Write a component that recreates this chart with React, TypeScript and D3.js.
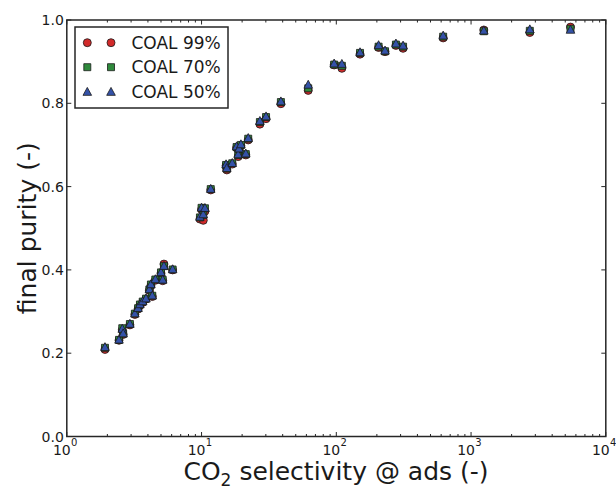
import React from "react";
import * as d3 from "d3";

const coal99X = [1.92, 2.44, 2.58, 2.62, 2.94, 3.2, 3.38, 3.49, 3.66, 3.87, 4.1, 4.21, 4.31, 4.54, 5.0, 5.15, 5.26, 6.1, 9.73, 10.0, 10.3, 10.6, 11.7, 15.2, 15.4, 16.9, 18.2, 18.7, 19.0, 19.6, 21.3, 22.2, 27.1, 30.1, 38.8, 61.9, 96.4, 110, 150, 206, 230, 277, 313, 621, 1244, 2730, 5470];
const coal99Y = [0.209, 0.231, 0.256, 0.245, 0.268, 0.293, 0.306, 0.315, 0.322, 0.330, 0.351, 0.362, 0.336, 0.375, 0.392, 0.374, 0.414, 0.400, 0.522, 0.545, 0.519, 0.541, 0.592, 0.650, 0.640, 0.654, 0.693, 0.672, 0.688, 0.698, 0.676, 0.712, 0.750, 0.763, 0.799, 0.831, 0.892, 0.884, 0.918, 0.934, 0.924, 0.939, 0.932, 0.957, 0.976, 0.970, 0.983];
const coal70X = [1.92, 2.44, 2.58, 2.62, 2.94, 3.2, 3.38, 3.49, 3.66, 3.87, 4.1, 4.21, 4.31, 4.54, 5.0, 5.15, 5.26, 6.1, 9.73, 10.0, 10.3, 10.6, 11.7, 15.2, 15.4, 16.9, 18.2, 18.7, 19.0, 19.6, 21.3, 22.2, 27.1, 30.1, 38.8, 61.9, 96.4, 110, 150, 206, 230, 277, 313, 621, 1244, 2730, 5470];
const coal70Y = [0.213, 0.232, 0.260, 0.247, 0.270, 0.295, 0.308, 0.317, 0.324, 0.331, 0.353, 0.365, 0.338, 0.377, 0.394, 0.376, 0.409, 0.401, 0.526, 0.549, 0.532, 0.548, 0.594, 0.652, 0.643, 0.656, 0.695, 0.676, 0.690, 0.700, 0.678, 0.715, 0.755, 0.767, 0.803, 0.836, 0.893, 0.890, 0.921, 0.936, 0.925, 0.941, 0.936, 0.960, 0.973, 0.974, 0.979];
const coal50X = [1.92, 2.44, 2.58, 2.62, 2.94, 3.2, 3.38, 3.49, 3.66, 3.87, 4.1, 4.21, 4.31, 4.54, 5.0, 5.15, 5.26, 6.1, 9.73, 10.0, 10.3, 10.6, 11.7, 15.2, 15.4, 16.9, 18.2, 18.7, 19.0, 19.6, 21.3, 22.2, 27.1, 30.1, 38.8, 61.9, 96.4, 110, 150, 206, 230, 277, 313, 621, 1244, 2730, 5470];
const coal50Y = [0.215, 0.233, 0.259, 0.248, 0.271, 0.296, 0.309, 0.318, 0.325, 0.332, 0.354, 0.366, 0.339, 0.378, 0.395, 0.377, 0.410, 0.402, 0.528, 0.550, 0.534, 0.549, 0.595, 0.654, 0.645, 0.657, 0.697, 0.678, 0.692, 0.702, 0.680, 0.717, 0.758, 0.769, 0.805, 0.845, 0.896, 0.895, 0.923, 0.940, 0.927, 0.944, 0.939, 0.963, 0.975, 0.978, 0.977];

const xTickExps = [0, 1, 2, 3, 4];
const yTicks = [0.0, 0.2, 0.4, 0.6, 0.8, 1.0];
const seriesNames = ["COAL 99%", "COAL 70%", "COAL 50%"];
const seriesColors = ["#d22a2a", "#2f8a3c", "#3452a8"];

const W = 616, H = 489;
const L = 66.8, R = 605.8, T = 20, B = 436.5;

const x = d3.scaleLog().domain([1, 10000]).range([L, R]);
const y = d3.scaleLinear().domain([0, 1]).range([B, T]);

const font = "'DejaVu Sans', sans-serif";

function Marker({ kind, cx, cy, color }: { kind: number; cx: number; cy: number; color: string }) {
  const sw = 0.8;
  const stroke = "#1a1a1a";
  if (kind === 0) {
    const sym = d3.symbol().type(d3.symbolCircle).size(Math.PI * 4 * 4)();
    return <path d={sym || ""} transform={`translate(${cx},${cy})`} fill={color} stroke={stroke} strokeWidth={sw} />;
  }
  if (kind === 1) {
    const sym = d3.symbol().type(d3.symbolSquare).size(7 * 7)();
    return <path d={sym || ""} transform={`translate(${cx},${cy})`} fill={color} stroke={stroke} strokeWidth={sw} />;
  }
  const s = 4.3;
  const d = `M${cx},${cy - s}L${cx + s},${cy + s * 0.85}L${cx - s},${cy + s * 0.85}Z`;
  return <path d={d} fill={color} stroke={stroke} strokeWidth={sw} />;
}

export default function App() {
  const series = [
    { xs: coal99X, ys: coal99Y },
    { xs: coal70X, ys: coal70Y },
    { xs: coal50X, ys: coal50Y },
  ];
  const minor: number[] = [];
  for (let e = 0; e < 4; e++) for (let k = 2; k <= 9; k++) minor.push(k * Math.pow(10, e));
  const axisColor = "#262626";
  const legX = 75, legY = 27, legW = 153, legH = 81;
  return (
    <svg width={W} height={H} style={{ position: "absolute", left: 0, top: 0, background: "#fff" }}>
      <rect x={0} y={0} width={W} height={H} fill="#fff" />
      {/* ticks */}
      {xTickExps.map((e) => {
        const px = x(Math.pow(10, e));
        return (
          <g key={"xt" + e}>
            <line x1={px} x2={px} y1={B} y2={B - 4.5} stroke={axisColor} strokeWidth={1} />
            <line x1={px} x2={px} y1={T} y2={T + 4.5} stroke={axisColor} strokeWidth={1} />
            <text x={px - 5} y={455} fontFamily={font} fontSize={14} textAnchor="middle" fill="#1a1a1a">
              10
            </text>
            <text x={px + 7.5} y={446} fontFamily={font} fontSize={10} textAnchor="middle" fill="#1a1a1a">
              {e}
            </text>
          </g>
        );
      })}
      {minor.map((v) => {
        const px = x(v);
        return (
          <g key={"mx" + v}>
            <line x1={px} x2={px} y1={B} y2={B - 2.5} stroke={axisColor} strokeWidth={1} />
            <line x1={px} x2={px} y1={T} y2={T + 2.5} stroke={axisColor} strokeWidth={1} />
          </g>
        );
      })}
      {yTicks.map((v) => {
        const py = y(v);
        return (
          <g key={"yt" + v}>
            <line x1={L} x2={L + 4.5} y1={py} y2={py} stroke={axisColor} strokeWidth={1} />
            <line x1={R} x2={R - 4.5} y1={py} y2={py} stroke={axisColor} strokeWidth={1} />
            <text x={L - 3} y={py + 5} fontFamily={font} fontSize={14} textAnchor="end" fill="#1a1a1a">
              {v.toFixed(1)}
            </text>
          </g>
        );
      })}
      {/* points */}
      {series.map((s, si) =>
        s.xs.map((xv, i) => (
          <Marker key={si + "-" + i} kind={si} cx={x(xv)} cy={y(s.ys[i])} color={seriesColors[si]} />
        ))
      )}
      {/* frame */}
      <rect x={L} y={T} width={R - L} height={B - T} fill="none" stroke={axisColor} strokeWidth={1.5} />
      {/* legend */}
      <rect x={legX} y={legY} width={legW} height={legH} fill="#fff" stroke={axisColor} strokeWidth={1.5} />
      {seriesNames.map((n, i) => {
        const cy = 42.7 + i * 24.5;
        return (
          <g key={"lg" + i}>
            <Marker kind={i} cx={87.3} cy={cy} color={seriesColors[i]} />
            <Marker kind={i} cx={111} cy={cy} color={seriesColors[i]} />
            <text x={131.5} y={cy + 6} fontFamily={font} fontSize={17} fill="#1a1a1a">
              {n}
            </text>
          </g>
        );
      })}
      {/* axis labels */}
      <text x={336} y={480} fontFamily={font} fontSize={25} textAnchor="middle" fill="#1a1a1a">
        CO<tspan fontSize={17} dy={6}>2</tspan>
        <tspan dy={-6}> selectivity @ ads (-)</tspan>
      </text>
      <text
        transform={`translate(36,${(T + B) / 2}) rotate(-90)`}
        fontFamily={font}
        fontSize={25}
        textAnchor="middle"
        fill="#1a1a1a"
      >
        final purity (-)
      </text>
    </svg>
  );
}
